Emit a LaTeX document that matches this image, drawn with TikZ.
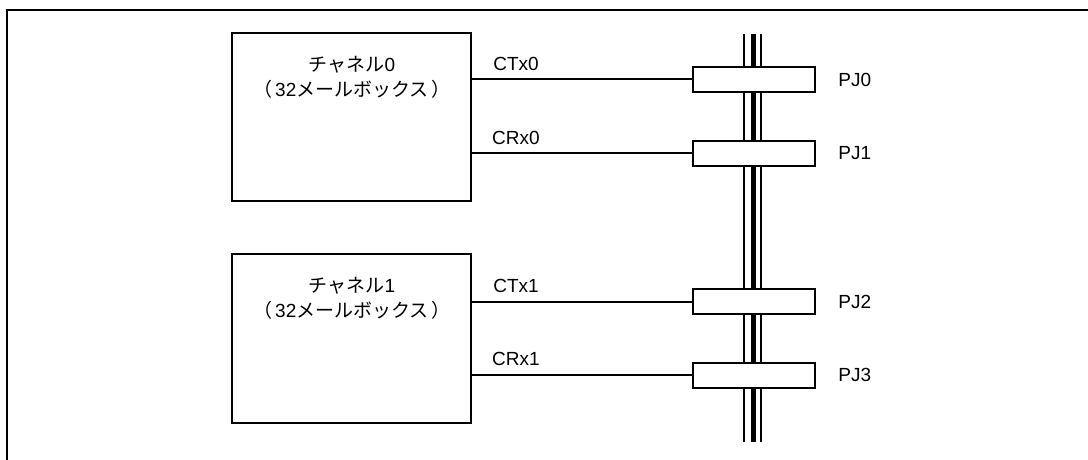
\documentclass[tikz,border=0pt]{standalone}
\usepackage{fontspec}
\setmainfont{Liberation Sans}
\newfontfamily\jpfont{Noto Sans CJK JP}
\usetikzlibrary{positioning}

\begin{document}
\begin{tikzpicture}[
  x=0.5pt, y=-0.5pt,
  every node/.style={font=\fontsize{9.5}{12.5}\selectfont},
  chbox/.style={draw, line width=1pt, minimum width=119.5pt, minimum height=84pt, inner sep=0pt},
  pinbox/.style={draw, line width=1pt, fill=white, minimum width=61pt, minimum height=12.5pt, inner sep=0pt},
  sig/.style={line width=1pt},
  lbl/.style={inner sep=2pt, above=2pt},
  bus/.style={line width=1pt},
  thickbus/.style={line width=2.5pt}
]
  \useasboundingbox (0,0) rectangle (1088,460);
  % frame
  \draw[line width=1pt] (7,460) -- (7,10) -- (1088,10);

  % bus
  \coordinate (bustop) at (753,34);
  \coordinate (busbot) at (753,442);
  \draw[bus] ([xshift=-4.5pt]bustop) -- ([xshift=-4.5pt]busbot);
  \draw[thickbus] (bustop) -- (busbot);
  \draw[bus] ([xshift=4pt]bustop) -- ([xshift=4pt]busbot);

  % channels
  \node[chbox] (ch0) at (351.5,117) {};
  \node[align=center] (ch0txt) at (352,77) {{\jpfont チャネル}0\\{\jpfont （\,}32{\jpfont メールボックス\,）}};
  \node[chbox, minimum height=84.5pt] (ch1) at (351.5,338.5) {};
  \node[align=center] (ch1txt) at (352,298) {{\jpfont チャネル}1\\{\jpfont （\,}32{\jpfont メールボックス\,）}};

  % pins
  \node[pinbox] (pj0) at (754,79.5) {};
  \node[pinbox] (pj1) at (754,153.5) {};
  \node[pinbox] (pj2) at (754,301.5) {};
  \node[pinbox] (pj3) at (754,375) {};
  \node[right=9pt of pj0, inner sep=2pt] (pj0txt) {PJ0};
  \node[right=9pt of pj1, inner sep=2pt] (pj1txt) {PJ1};
  \node[right=9pt of pj2, inner sep=2pt] (pj2txt) {PJ2};
  \node[right=9pt of pj3, inner sep=2pt] (pj3txt) {PJ3};

  % signals
  \draw[sig] (ch0.east |- pj0) -- (pj0.west) node[lbl, pos=0.2] (ctx0) {CTx0};
  \draw[sig] (ch0.east |- pj1) -- (pj1.west) node[lbl, pos=0.2] (crx0) {CRx0};
  \draw[sig] (ch1.east |- pj2) -- (pj2.west) node[lbl, pos=0.2] (ctx1) {CTx1};
  \draw[sig] (ch1.east |- pj3) -- (pj3.west) node[lbl, pos=0.2] (crx1) {CRx1};
\end{tikzpicture}
\end{document}
